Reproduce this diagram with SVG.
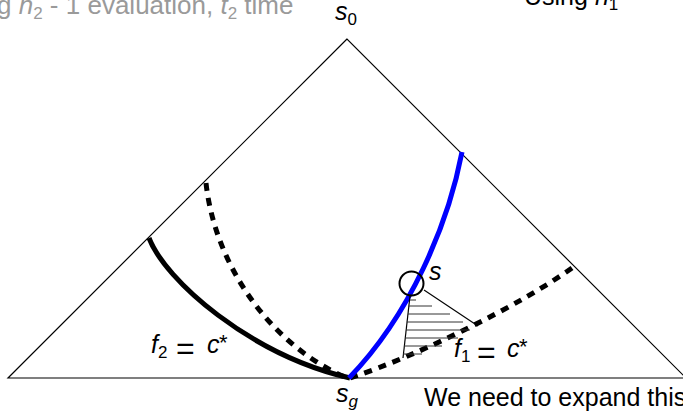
<svg xmlns="http://www.w3.org/2000/svg" width="683" height="412" viewBox="0 0 683 412">
<style>
text{font-family:"Liberation Sans",Arial,sans-serif;font-size:25px;fill:#000}
.it{font-style:italic}
.sub{font-size:17px}
.star{font-size:22px}
.gray{fill:#9a9a9a}
.thin{fill:none;stroke:#000;stroke-width:1.2}
.hatch{stroke:#333;stroke-width:1}
.solid{fill:none;stroke:#000;stroke-width:5;stroke-linecap:butt}
.dash{fill:none;stroke:#000;stroke-width:5;stroke-dasharray:8 7}
.blue{fill:none;stroke:#0000ff;stroke-width:5}
</style>
<rect width="683" height="412" fill="#fff"/>
<g id="triangle">
<polygon class="thin" points="347,39 8,378 686,378"/>
</g>
<g id="connectors">
<path id="f2-dashed" class="dash" d="M206,183 C215,265 270,345 347,378"/>
<path id="f2-solid" class="solid" d="M149,238 C165,280 250,355 350,378"/>
<path id="f1-dashed" class="dash" d="M572,268 C520,305 420,355 350,378"/>
<path id="h1-blue" class="blue" d="M462,152 C448,225 410,315 349,378"/>
</g>
<g id="region">
<line class="thin" x1="424" y1="290" x2="478" y2="326"/>
<line class="thin" x1="410" y1="296" x2="403" y2="358"/>
<g class="hatch">
<line x1="410" y1="300" x2="416" y2="300"/>
<line x1="409" y1="306" x2="432" y2="306"/>
<line x1="408" y1="314" x2="450" y2="314"/>
<line x1="407" y1="322" x2="463" y2="322"/>
<line x1="406" y1="330" x2="470" y2="330"/>
<line x1="405" y1="338" x2="458" y2="338"/>
<line x1="404" y1="346" x2="442" y2="346"/>
<line x1="403" y1="354" x2="422" y2="354"/>
</g>
</g>
<g id="node-s">
<circle cx="411.5" cy="283.5" r="12" fill="none" stroke="#000" stroke-width="2"/>
<text x="429" y="280" class="it">s</text>
</g>
<g id="label-s0">
<text x="335" y="20"><tspan class="it">s</tspan><tspan class="sub" dy="5">0</tspan></text>
</g>
<g id="label-sg">
<text x="336" y="402"><tspan class="it">s</tspan><tspan class="sub it" dy="5">g</tspan></text>
</g>
<g id="label-f2">
<text x="151" y="353" class="it">f</text>
<text x="158" y="358" class="sub">2</text>
<text x="176" y="359" style="font-size:32px">=</text>
<text x="207" y="353" class="it">c</text>
<text x="219" y="350" class="star">*</text>
</g>
<g id="label-f1">
<text x="454" y="357" class="it">f</text>
<text x="461" y="362" class="sub">1</text>
<text x="477" y="363" style="font-size:32px">=</text>
<text x="507" y="357" class="it">c</text>
<text x="519" y="354" class="star">*</text>
</g>
<g id="title-left">
<text x="-55" y="14" class="gray" style="font-size:26px">Using <tspan class="it">h</tspan><tspan class="sub" dy="5">2</tspan><tspan dy="-5"> - 1 evaluation, </tspan><tspan class="it">t</tspan><tspan class="sub" dy="5">2</tspan><tspan dy="-5"> time</tspan></text>
</g>
<g id="title-right">
<text x="524" y="5">Using <tspan class="it">h</tspan><tspan class="sub" dy="5">1</tspan></text>
</g>
<g id="note">
<text x="424" y="406">We need to expand this</text>
</g>
</svg>
